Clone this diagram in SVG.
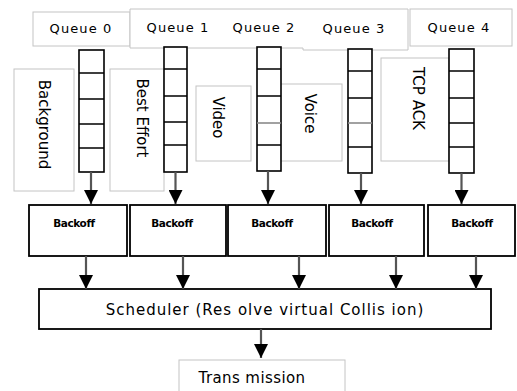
<svg xmlns="http://www.w3.org/2000/svg" width="517" height="391" viewBox="0 0 517 391">
  <style>
    .frame { fill: #fff; stroke: #c4c4c4; stroke-width: 1; }
    .queue { fill: #fff; stroke: #000; stroke-width: 1.6; }
    .cell { stroke: #000; stroke-width: 1.6; }
    .cell-soft { stroke: #8a8a8a; stroke-width: 1.6; }
    .box { fill: #fff; stroke: #000; stroke-width: 1.8; }
    .label { font-family: "DejaVu Sans", "Liberation Sans", sans-serif; font-size: 13px; letter-spacing: 1.1px; fill: #000; text-anchor: middle; }
    .cls { font-family: "DejaVu Sans", "Liberation Sans", sans-serif; font-size: 15px; fill: #000; text-anchor: middle; }
    .small { font-family: "DejaVu Sans", "Liberation Sans", sans-serif; font-size: 10.5px; font-weight: bold; letter-spacing: -0.4px; fill: #000; text-anchor: middle; }
    .big { font-family: "DejaVu Sans", "Liberation Sans", sans-serif; font-size: 15px; letter-spacing: 1px; fill: #000; text-anchor: middle; }
    .wire { stroke: #555; stroke-width: 2.2; fill: none; marker-end: url(#head); }
  </style>
  <defs>
    <marker id="head" markerUnits="userSpaceOnUse" markerWidth="14" markerHeight="14" viewBox="0 0 14 14" refX="14" refY="7" orient="auto">
      <path d="M0,0 L14,7 L0,14 Z" fill="#000"/>
    </marker>
  </defs>

  <!-- queue name tags -->
  <g id="queue-0-label">
    <rect class="frame" x="33" y="12" width="97" height="34"/>
    <text class="label" x="81" y="33">Queue 0</text>
  </g>
  <g id="queue-1-label">
    <path class="frame" d="M130,9 H408 V50 H303 V48 H130 Z"/>
    <text class="label" x="178" y="32">Queue 1</text>
  </g>
  <g id="queue-2-label">
    <text class="label" x="264" y="32">Queue 2</text>
  </g>
  <g id="queue-3-label">
    <text class="label" x="354" y="33">Queue 3</text>
  </g>
  <g id="queue-4-label">
    <rect class="frame" x="410" y="9" width="102" height="37"/>
    <text class="label" x="459" y="32">Queue 4</text>
  </g>

  <!-- traffic classes (vertical captions) -->
  <g id="class-background">
    <rect class="frame" x="14" y="69" width="60" height="122"/>
    <text class="cls" transform="translate(39,124.5) rotate(90)">Background</text>
  </g>
  <g id="class-best-effort">
    <rect class="frame" x="110" y="69" width="54" height="122"/>
    <text class="cls" transform="translate(137,118) rotate(90)">Best Effort</text>
  </g>
  <g id="class-video">
    <rect class="frame" x="196" y="86" width="55" height="75"/>
    <text class="cls" transform="translate(213,117.5) rotate(90)">Video</text>
  </g>
  <g id="class-voice">
    <rect class="frame" x="270" y="84" width="72" height="77"/>
    <text class="cls" transform="translate(305,113.5) rotate(90)">Voice</text>
  </g>
  <g id="class-tcp-ack">
    <rect class="frame" x="381" y="58" width="68" height="103"/>
    <text class="cls" transform="translate(413,98.5) rotate(90)">TCP ACK</text>
  </g>

  <!-- queue buffers -->
  <g id="queue-0">
    <rect class="queue" x="79" y="50" width="25" height="122"/>
    <path class="cell" d="M79,73 H104 M79,99 H104 M79,124 H104 M79,148 H104"/>
  </g>
  <g id="queue-1">
    <rect class="queue" x="164" y="47" width="23" height="125"/>
    <path class="cell" d="M164,69 H187 M164,96 H187 M164,122 H187 M164,145 H187"/>
  </g>
  <g id="queue-2">
    <rect class="queue" x="257" y="47" width="24" height="124"/>
    <path class="cell" d="M257,69 H281 M257,96 H281 M257,145 H281"/>
    <path class="cell-soft" d="M257,123 H281"/>
  </g>
  <g id="queue-3">
    <rect class="queue" x="348" y="49" width="24" height="124"/>
    <path class="cell" d="M348,71 H372 M348,98 H372 M348,147 H372"/>
    <path class="cell-soft" d="M348,123 H372"/>
  </g>
  <g id="queue-4">
    <rect class="queue" x="449" y="49" width="25" height="124"/>
    <path class="cell" d="M449,71 H474 M449,98 H474 M449,123 H474 M449,147 H474"/>
  </g>

  <!-- backoff stages -->
  <g id="backoff-0">
    <rect class="box" x="29" y="205" width="98" height="51"/>
    <text class="small" x="74" y="227">Backoff</text>
  </g>
  <g id="backoff-1">
    <rect class="box" x="130" y="205" width="96" height="51"/>
    <text class="small" x="172" y="227">Backoff</text>
  </g>
  <g id="backoff-2">
    <rect class="box" x="228" y="205" width="98" height="51"/>
    <text class="small" x="272" y="227">Backoff</text>
  </g>
  <g id="backoff-3">
    <rect class="box" x="329" y="205" width="95" height="51"/>
    <text class="small" x="372" y="227">Backoff</text>
  </g>
  <g id="backoff-4">
    <rect class="box" x="428" y="205" width="87" height="51"/>
    <text class="small" x="472" y="227">Backoff</text>
  </g>

  <!-- scheduler -->
  <g id="scheduler">
    <rect class="box" x="39" y="289" width="452" height="40"/>
    <text class="big" x="265" y="315">Scheduler (Res olve virtual Collis ion)</text>
  </g>

  <!-- transmission -->
  <g id="transmission">
    <rect class="frame" x="179" y="360" width="166" height="40"/>
    <text class="cls" x="252" y="383" letter-spacing="0.4">Trans mission</text>
  </g>

  <!-- connectors -->
  <g id="connectors">
    <path class="wire" d="M91,172 V204"/>
    <path class="wire" d="M175.5,172 V204"/>
    <path class="wire" d="M268,171 V204"/>
    <path class="wire" d="M361,173 V204"/>
    <path class="wire" d="M461.5,173 V204"/>
    <path class="wire" d="M86,256 V289"/>
    <path class="wire" d="M183,256 V289"/>
    <path class="wire" d="M299,256 V289"/>
    <path class="wire" d="M396,256 V289"/>
    <path class="wire" d="M476,256 V289"/>
    <path class="wire" d="M261,329 V358"/>
  </g>
</svg>
